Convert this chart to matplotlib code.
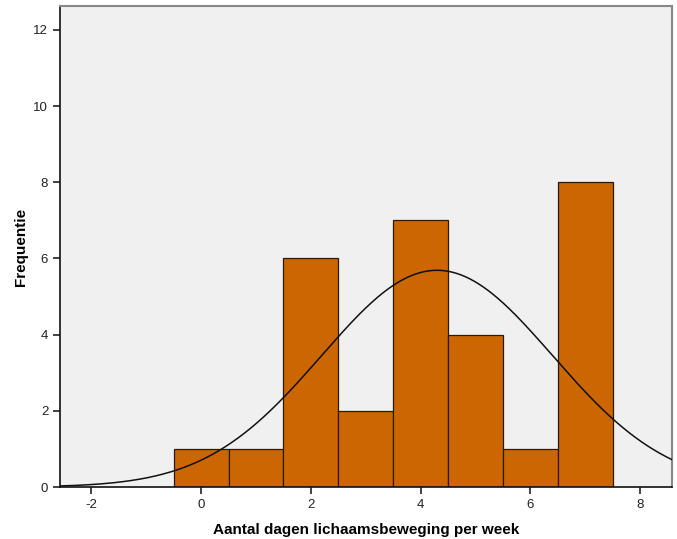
import numpy as np
import matplotlib.pyplot as plt

plt.rcParams['font.family'] = ['Liberation Sans', 'DejaVu Sans']
plt.rcParams['axes.unicode_minus'] = False

# dagen per week en aantal respondenten
dagen = [0, 1, 2, 3, 4, 5, 6, 7]
frequentie = [1, 1, 6, 2, 7, 4, 1, 8]

n = sum(frequentie)
gem = np.average(dagen, weights=frequentie)
sd = np.sqrt(np.sum(np.array(frequentie) * (np.array(dagen) - gem) ** 2) / (n - 1))

fig = plt.figure(figsize=(6.77, 5.39), dpi=100)
ax = fig.add_axes([60 / 677, 52 / 539, 612 / 677, 481 / 539])
ax.set_facecolor('#f0f0f0')

ax.bar(dagen, frequentie, width=1.0, color='#cc6600', edgecolor='#2a1a0a', linewidth=0.9, zorder=2)

xs = np.linspace(-2.6, 8.6, 400)
ys = n * 1.0 / (sd * np.sqrt(2 * np.pi)) * np.exp(-0.5 * ((xs - gem) / sd) ** 2)
ax.plot(xs, ys, color='#111111', linewidth=1.1, zorder=3)

ax.set_xlim(-2.57, 8.58)
ax.set_ylim(0, 12.63)
ax.set_xticks([-2, 0, 2, 4, 6, 8])
ax.set_yticks([0, 2, 4, 6, 8, 10, 12])
ax.tick_params(direction='out', length=5, width=1.2, labelsize=9.5, color='#222222', labelcolor='#222222')
for s in ['left', 'bottom']:
    ax.spines[s].set_color('#111111')
    ax.spines[s].set_linewidth(1.2)
for s in ['top', 'right']:
    ax.spines[s].set_color('#888888')
    ax.spines[s].set_linewidth(1.5)

ax.set_xlabel('Aantal dagen lichaamsbeweging per week', fontsize=11, fontweight='bold', labelpad=9)
ax.set_ylabel('Frequentie', fontsize=11, fontweight='bold', labelpad=4)

fig.savefig('out.png', dpi=100)
